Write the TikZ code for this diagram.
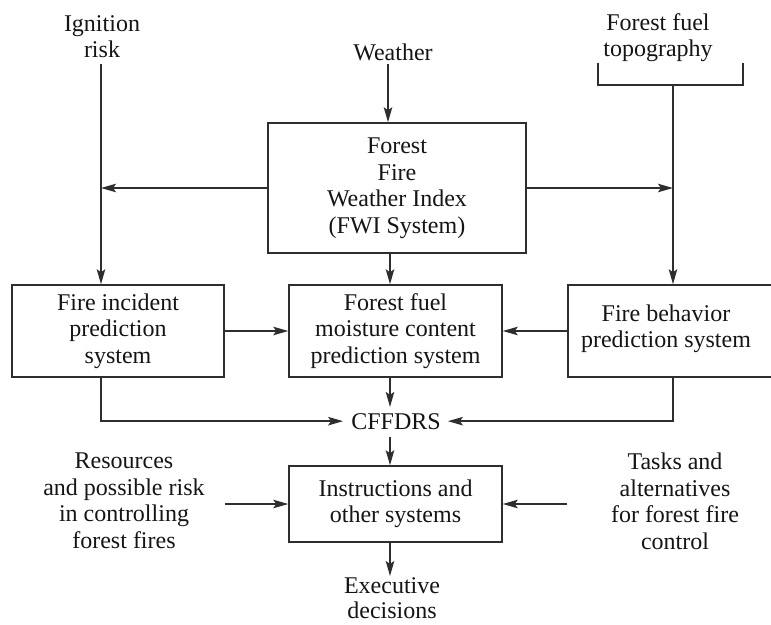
\documentclass[tikz,border=0pt]{standalone}
\usepackage{fontspec}
\setmainfont{Liberation Serif}
\usetikzlibrary{arrows.meta}
\definecolor{ln}{HTML}{2E2E2E}
\definecolor{tx}{HTML}{151515}
\begin{document}
\begin{tikzpicture}[x=1pt,y=-1pt,
  font=\fontsize{24}{26.5}\selectfont,
  every node/.style={text=tx},
  arr/.style={draw=ln,line width=1.5pt,-{Stealth[length=15pt,width=8.5pt,inset=3pt]}},
  ln/.style={draw=ln,line width=1.5pt},
  box/.style={draw=ln,line width=1.5pt,align=center,inner sep=0pt},
  lbl/.style={align=center,inner sep=0pt}]
\useasboundingbox[fill=white] (0,0) rectangle (771,624);
% top inputs
\node[lbl,anchor=north] (ign) at (102,15) {Ignition\\risk};
\node[lbl,anchor=north] (wea) at (393,44) {Weather};
\node[lbl,anchor=north] (fft) at (658,13) {Forest fuel\\topography};
\coordinate (ig) at (101,64);
\coordinate (wa) at (388,64);
\coordinate (tp) at (673,85);
\coordinate (mx) at (390,0);
\draw[ln] (598,63) -- (598,85) -- (743,85) -- (743,63);
% boxes
\node[box,minimum width=258pt,minimum height=130pt] (fwi) at (397,188) {Forest\\Fire\\Weather Index\\(FWI System)};
\node[box,minimum width=212pt,minimum height=92pt] (fi) at (118,331) {Fire incident\\prediction\\system};
\node[box,minimum width=213pt,minimum height=92pt] (mo) at (395.5,331) {Forest fuel\\moisture content\\prediction system};
\node[box,minimum width=208pt,minimum height=92pt] (fb) at (672,331) {};
\node[lbl] (fbt) at (666,329) {Fire behavior\\prediction system};
\node[lbl,anchor=base,inner sep=0pt] (cff) at (396,429) {CFFDRS};
\node[box,minimum width=213pt,minimum height=76pt] (inst) at (395.5,504) {Instructions and\\other systems};
\node[lbl,anchor=north] (res) at (124,453) {Resources\\and possible risk\\in controlling\\forest fires};
\node[lbl,anchor=north] (tsk) at (675,453) {Tasks and\\alternatives\\for forest fire\\control};
\node[lbl,anchor=north,font=\fontsize{24}{25}\selectfont] (exe) at (392,577) {Executive\\decisions};
% connectors
\draw[arr] (ig) -- (ig |- fi.north);
\draw[arr] (wa) -- (wa |- fwi.north);
\draw[arr] (tp) -- (tp |- fb.north);
\draw[arr] (fwi.west) -- (fwi.west -| ig);
\draw[arr] (fwi.east) -- (fwi.east -| tp);
\draw[arr] (fwi.south -| mx) -- (mo.north -| mx);
\draw[arr] (fi.east) -- (mo.west);
\draw[arr] (fb.west) -- (mo.east);
\draw[arr,shorten >=6pt] (mo.south -| mx) -- (cff.north -| mx);
\draw[arr,shorten >=8pt] (fi.south -| ig) |- (cff.west);
\draw[arr,shorten >=7pt] (fb.south -| tp) |- (cff.east);
\draw[arr,shorten <=8pt] (cff.south -| mx) -- (inst.north -| mx);
\draw[arr] (fi.east |- inst.west) -- (inst.west);
\draw[arr] (fb.west |- inst.east) -- (inst.east);
\draw[arr,shorten >=1pt] (inst.south -| mx) -- (exe.north -| mx);
\end{tikzpicture}
\end{document}
